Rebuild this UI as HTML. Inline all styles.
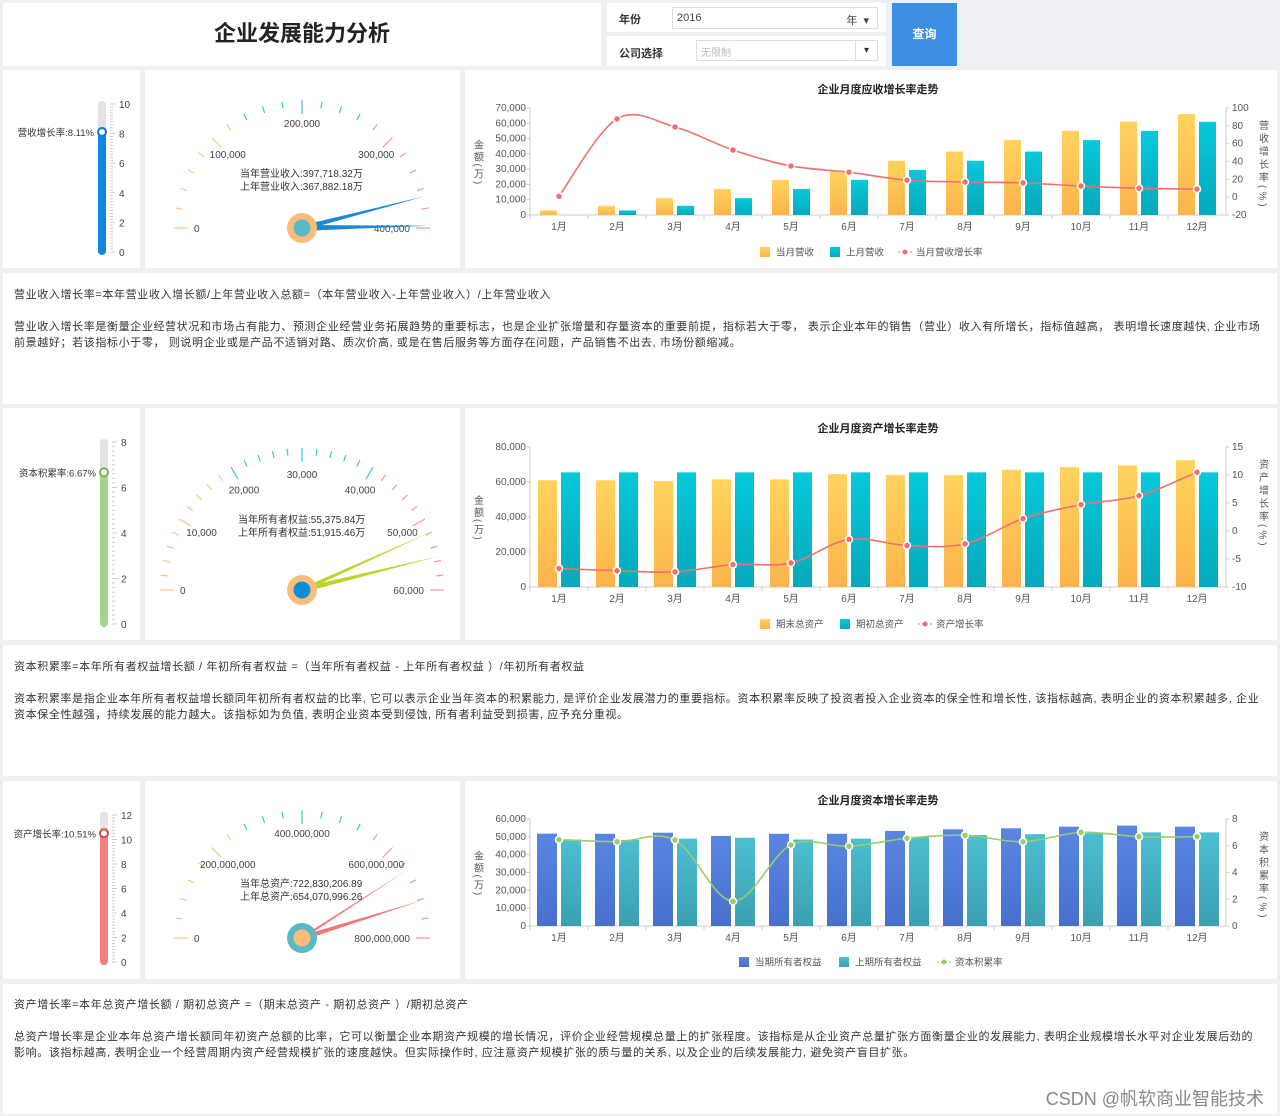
<!DOCTYPE html>
<html><head><meta charset="utf-8">
<style>
*{margin:0;padding:0;box-sizing:border-box}
body{width:1280px;height:1116px;background:#eef0f4;position:relative;overflow:hidden;font-family:"Liberation Sans","Noto Sans CJK SC",sans-serif;color:#333}
.p{position:absolute;background:#fff}
.txt{font-size:11px;line-height:16px;white-space:nowrap;position:absolute;left:14px;color:#333;letter-spacing:0.62px}
#svg{position:absolute;left:0;top:0}
</style></head><body>
<div class="p" style="left:3px;top:3px;width:598px;height:63px"></div>
<div style="position:absolute;left:3px;top:16px;width:598px;text-align:center;font-size:22px;font-weight:bold;color:#222">企业发展能力分析</div>
<div class="p" style="left:607px;top:3px;width:279px;height:29px"></div>
<div class="p" style="left:607px;top:36px;width:279px;height:30px"></div>
<div style="position:absolute;left:619px;top:11px;font-size:11px;font-weight:bold">年份</div>
<div style="position:absolute;left:672px;top:7px;width:206px;height:22px;border:1px solid #ddd;font-size:11px;padding:4px 4px;color:#444">2016<span style="position:absolute;right:8px;top:4px">年 &nbsp;▾</span></div>
<div style="position:absolute;left:619px;top:45px;font-size:11px;font-weight:bold">公司选择</div>
<div style="position:absolute;left:696px;top:40px;width:182px;height:21px;border:1px solid #ddd;font-size:10px;padding:3px 4px;color:#bbb">无限制<span style="position:absolute;right:0;top:0;width:22px;height:19px;border-left:1px solid #ddd;color:#333;text-align:center;line-height:19px">▾</span></div>
<div style="position:absolute;left:892px;top:3px;width:65px;height:63px;background:#3d8fe3;color:#fff;font-size:12px;font-weight:bold;text-align:center;line-height:63px">查询</div>

<div class="p" style="left:3px;top:70px;width:137px;height:198px"></div>
<div class="p" style="left:145px;top:70px;width:315px;height:198px"></div>
<div class="p" style="left:465px;top:70px;width:812px;height:198px"></div>
<div class="p" style="left:3px;top:273px;width:1274px;height:131px"></div>
<div class="p" style="left:3px;top:408px;width:137px;height:232px"></div>
<div class="p" style="left:145px;top:408px;width:315px;height:232px"></div>
<div class="p" style="left:465px;top:408px;width:812px;height:232px"></div>
<div class="p" style="left:3px;top:645px;width:1274px;height:131px"></div>
<div class="p" style="left:3px;top:781px;width:137px;height:198px"></div>
<div class="p" style="left:145px;top:781px;width:315px;height:198px"></div>
<div class="p" style="left:465px;top:781px;width:812px;height:198px"></div>
<div class="p" style="left:3px;top:984px;width:1274px;height:130px"></div>

<div class="txt" style="top:287px">营业收入增长率=本年营业收入增长额/上年营业收入总额=（本年营业收入-上年营业收入）/上年营业收入</div>
<div class="txt" style="top:319px">营业收入增长率是衡量企业经营状况和市场占有能力、预测企业经营业务拓展趋势的重要标志，也是企业扩张增量和存量资本的重要前提，指标若大于零， 表示企业本年的销售（营业）收入有所增长，指标值越高， 表明增长速度越快, 企业市场<br>前景越好；若该指标小于零， 则说明企业或是产品不适销对路、质次价高, 或是在售后服务等方面存在问题，产品销售不出去, 市场份额缩减。</div>
<div class="txt" style="top:659px">资本积累率=本年所有者权益增长额 / 年初所有者权益 =（当年所有者权益 - 上年所有者权益 ）/年初所有者权益</div>
<div class="txt" style="top:691px">资本积累率是指企业本年所有者权益增长额同年初所有者权益的比率, 它可以表示企业当年资本的积累能力, 是评价企业发展潜力的重要指标。资本积累率反映了投资者投入企业资本的保全性和增长性, 该指标越高, 表明企业的资本积累越多, 企业<br>资本保全性越强，持续发展的能力越大。该指标如为负值, 表明企业资本受到侵蚀, 所有者利益受到损害, 应予充分重视。</div>
<div class="txt" style="top:997px">资产增长率=本年总资产增长额 / 期初总资产 =（期末总资产 - 期初总资产 ）/期初总资产</div>
<div class="txt" style="top:1029px">总资产增长率是企业本年总资产增长额同年初资产总额的比率，它可以衡量企业本期资产规模的增长情况，评价企业经营规模总量上的扩张程度。该指标是从企业资产总量扩张方面衡量企业的发展能力, 表明企业规模增长水平对企业发展后劲的<br>影响。该指标越高, 表明企业一个经营周期内资产经营规模扩张的速度越快。但实际操作时, 应注意资产规模扩张的质与量的关系, 以及企业的后续发展能力, 避免资产盲目扩张。</div>
<div style="position:absolute;right:16px;top:1085px;font-size:18px;color:#888">CSDN @帆软商业智能技术</div>

<svg id="svg" width="1280" height="1116" xmlns="http://www.w3.org/2000/svg">
<defs>
<linearGradient id="gY" x1="0" y1="0" x2="0" y2="1"><stop offset="0" stop-color="#ffd35e"/><stop offset="1" stop-color="#fcb44a"/></linearGradient>
<linearGradient id="gT" x1="0" y1="0" x2="0" y2="1"><stop offset="0" stop-color="#05c9da"/><stop offset="1" stop-color="#05a9bb"/></linearGradient>
<linearGradient id="gB" x1="0" y1="0" x2="0" y2="1"><stop offset="0" stop-color="#5a86e2"/><stop offset="1" stop-color="#4670cb"/></linearGradient>
<linearGradient id="gC" x1="0" y1="0" x2="0" y2="1"><stop offset="0" stop-color="#4cbfd0"/><stop offset="1" stop-color="#3ba0b2"/></linearGradient>
</defs>
</svg>
<script>
const months=['1月','2月','3月','4月','5月','6月','7月','8月','9月','10月','11月','12月'];
const revCur=[3000,6000,11000,17000,23000,29000,35500,41500,49000,55000,61000,66000];
const revPrev=[0,3000,6000,11000,17000,23000,29500,35500,41500,49000,55000,61000];
const revRate=[1,87.7,78.7,52.9,35,28,19,17,16,12.5,10,9];
const revLeftTicks=[0,10000,20000,30000,40000,50000,60000,70000];
const revRightTicks=[-20,0,20,40,60,80,100];
const assetEnd=[61000,61000,60500,61500,61500,64500,64000,64000,67000,68500,69500,72500];
const assetBegin=[65500,65500,65500,65500,65500,65500,65500,65500,65500,65500,65500,65500];
const assetRate=[-6.7,-7.1,-7.3,-6.0,-5.7,-1.5,-2.6,-2.3,2.2,4.7,6.3,10.5];
const assetLeftTicks=[0,20000,40000,60000,80000];
const assetRightTicks=[-10,-5,0,5,10,15];
const eqCur=[51800,51700,52300,50500,51700,51700,53300,54200,54800,55700,56300,55700];
const eqPrev=[48500,48300,49000,49500,48500,49000,50000,51000,51500,52000,52500,52500];
const eqRate=[6.46,6.3,6.43,1.85,6.06,5.96,6.56,6.78,6.3,7.0,6.68,6.68];
const eqLeftTicks=[0,10000,20000,30000,40000,50000,60000];
const eqRightTicks=[0,2,4,6,8];
const gaugeRev=[397718.32,367882.18];
const gaugeEq=[55375.84,51915.46];
const gaugeAsset=[722830206.89,654070996.26];
const thermoVals=[8.11,6.67,10.51];

const S=document.getElementById('svg'),NS='http://www.w3.org/2000/svg';
function el(t,a,p){const e=document.createElementNS(NS,t);for(const k in a)e.setAttribute(k,a[k]);(p||S).appendChild(e);return e;}
function tx(x,y,s,a){const e=el('text',Object.assign({x:x,y:y,'font-size':10,fill:'#555','font-family':'Liberation Sans, Noto Sans CJK SC, sans-serif'},a||{}));e.textContent=s;return e;}
const fmt=v=>v.toLocaleString('en-US');

function chart(c){
 const g=el('g',{});
 
 
 const L=c.L,R=c.R,T=c.T,B=c.B,cw=(R-L)/12;
 const yL=v=>B-(v-c.lmin)/(c.lmax-c.lmin)*(B-T);
 const yR=v=>B-(v-c.rmin)/(c.rmax-c.rmin)*(B-T);
 const t=tx((L+R)/2,T-15,c.title,{'text-anchor':'middle','font-size':11,'font-weight':'bold',fill:'#222'});g.appendChild(t);
 
 el('line',{x1:L,y1:T,x2:L,y2:B,stroke:'#ccc'},g);
 el('line',{x1:R,y1:T,x2:R,y2:B,stroke:'#ccc'},g);
 el('line',{x1:L,y1:B,x2:R,y2:B,stroke:'#ccc'},g);
 c.lt.forEach(v=>{g.appendChild(tx(L-4,yL(v)+3,fmt(v),{'text-anchor':'end'}));el('line',{x1:L-3,x2:L,y1:yL(v),y2:yL(v),stroke:'#ccc'},g);});
 c.rt.forEach(v=>{g.appendChild(tx(R+6,yR(v)+3,String(v)));el('line',{x1:R,x2:R+3,y1:yR(v),y2:yR(v),stroke:'#ccc'},g);});
 months.forEach((m,i)=>{const cx=L+cw*(i+.5);g.appendChild(tx(cx,B+15,m,{'text-anchor':'middle'}));el('line',{x1:L+cw*i,x2:L+cw*i,y1:B,y2:B+4,stroke:'#ccc'},g);
  const b1=el('rect',{x:cx-c.bw-2,y:yL(c.a[i]),width:c.bw,height:B-yL(c.a[i]),fill:c.c1},g);
  
  const b2=el('rect',{x:cx+2,y:yL(c.b[i]),width:c.bw,height:B-yL(c.b[i]),fill:c.c2},g);
  
 });
 const pts=c.r.map((v,i)=>[L+cw*(i+.5),yR(v)]);
 let d='M'+pts[0];
 for(let i=0;i<pts.length-1;i++){const p0=pts[Math.max(0,i-1)],p1=pts[i],p2=pts[i+1],p3=pts[Math.min(pts.length-1,i+2)];
  d+=' C'+(p1[0]+(p2[0]-p0[0])/6)+','+(p1[1]+(p2[1]-p0[1])/6)+' '+(p2[0]-(p3[0]-p1[0])/6)+','+(p2[1]-(p3[1]-p1[1])/6)+' '+p2[0]+','+p2[1];}
 const ln=el('path',{d:d,fill:'none',stroke:c.lc,'stroke-width':1.6},g);
 
 pts.forEach((p,i)=>{const ci=el('circle',{cx:p[0],cy:p[1],r:3.5,fill:c.lc,stroke:'#fff','stroke-width':1.5},g);
  });
 // axis titles (vertical)
 const lt=tx(L-53,(T+B)/2-22,c.ltitle,{style:'writing-mode:vertical-rl','letter-spacing':'2px'});g.appendChild(lt);
 
 const rt=tx(R+36,T+12,c.rtitle,{style:'writing-mode:vertical-rl','letter-spacing':'3px'});g.appendChild(rt);
 
 // legend
 const ly=c.ly,lx=c.lx;
 const items=[[c.c1,c.n1,'bar'],[c.c2,c.n2,'bar'],[c.lc,c.n3,'line']];
 let x=lx;
 items.forEach((it,i)=>{const lg=el('g',{},g);
  
  if(it[2]=='bar')el('rect',{x:x,y:ly-5,width:10,height:10,fill:it[0]},lg);
  else{el('line',{x1:x-2,x2:x+12,y1:ly,y2:ly,stroke:it[0],'stroke-dasharray':'2,2'},lg);el('circle',{cx:x+5,cy:ly,r:2.5,fill:it[0]},lg);}
  lg.appendChild(tx(x+16,ly+3.5,it[1],{'font-size':9.5}));x+=16+it[1].length*10+14;});
}
chart({name:'revenue-trend-chart',title:'企业月度应收增长率走势',L:530,R:1226,T:108,B:215,lmin:0,lmax:70000,rmin:-20,rmax:100,lt:revLeftTicks,rt:revRightTicks,a:revCur,b:revPrev,r:revRate,bw:17,c1:'url(#gY)',c2:'url(#gT)',lc:'#f07070',k1:'current',k2:'previous',n1:'当月营收',n2:'上月营收',n3:'当月营收增长率',ltitle:'金额(万)',rtitle:'营收增长率(%)',lx:760,ly:252});
chart({name:'asset-trend-chart',title:'企业月度资产增长率走势',L:530,R:1226,T:447,B:587,lmin:0,lmax:80000,rmin:-10,rmax:15,lt:assetLeftTicks,rt:assetRightTicks,a:assetEnd,b:assetBegin,r:assetRate,bw:19,c1:'url(#gY)',c2:'url(#gT)',lc:'#f07070',k1:'end',k2:'begin',n1:'期末总资产',n2:'期初总资产',n3:'资产增长率',ltitle:'金额(万)',rtitle:'资产增长率(%)',lx:760,ly:624});
chart({name:'capital-trend-chart',title:'企业月度资本增长率走势',L:530,R:1226,T:819,B:926,lmin:0,lmax:60000,rmin:0,rmax:8,lt:eqLeftTicks,rt:eqRightTicks,a:eqCur,b:eqPrev,r:eqRate,bw:20,c1:'url(#gB)',c2:'url(#gC)',lc:'#9ccc6a',k1:'current-equity',k2:'previous-equity',n1:'当期所有者权益',n2:'上期所有者权益',n3:'资本积累率',ltitle:'金额(万)',rtitle:'资本积累率(%)',lx:739,ly:962});

function gauge(c){
 const g=el('g',{});
 
 const cx=c.cx,cy=c.cy,r=c.r;
 const n=c.n;
 for(let i=0;i<=n;i++){const a=Math.PI*i/n;
  const col=i<n/3?'#fcc77e':(i<=2*n/3?'#3ec4d6':'#f59595');
  const len=(i%c.maj==0)?14:7;
  el('line',{x1:cx-Math.cos(a)*r,y1:cy-Math.sin(a)*r,x2:cx-Math.cos(a)*(r-len),y2:cy-Math.sin(a)*(r-len),stroke:col,'stroke-width':1.2},g);}
 c.lab.forEach((s,i)=>{const a=Math.PI*i/(c.lab.length-1);const lr=(i==0||i==c.lab.length-1)?r-20:c.lr;
  const anc=i==0?'start':(i==c.lab.length-1?'end':'middle');
  g.appendChild(tx(cx-Math.cos(a)*lr,cy-Math.sin(a)*lr+4,s,{'text-anchor':anc,fill:'#444'}));});
 c.vals.forEach((v,i)=>{const a=Math.PI*v/c.max;const tr=r-2;const px=-Math.sin(a),py=-Math.cos(a);
  const tip=[cx-Math.cos(a)*tr,cy-Math.sin(a)*tr];
  const nd=el('polygon',{points:[tip,[cx+px*3,cy+py*3],[cx-px*3,cy-py*3]].map(p=>p.join(',')).join(' '),fill:c.nc},g);
  });
 el('circle',{cx:cx,cy:cy,r:15,fill:c.o},g);el('circle',{cx:cx,cy:cy,r:8.5,fill:c.in},g);
 g.appendChild(tx(c.tx,c.ty,c.t1,{fill:'#333'}));g.appendChild(tx(c.tx,c.ty+13,c.t2,{fill:'#333'}));
}
gauge({name:'revenue-gauge',cx:302,cy:228,r:128,n:20,maj:5,lr:105,lab:['0','100,000','200,000','300,000','400,000'],max:400000,vals:gaugeRev,nc:'#1a8ad8',o:'#fdbd78',in:'#5ab9c8',tx:240,ty:177,t1:'当年营业收入:'+fmt(gaugeRev[0])+'万',t2:'上年营业收入:'+fmt(gaugeRev[1])+'万'});
gauge({name:'equity-gauge',cx:302,cy:590,r:142,n:30,maj:5,lr:116,lab:['0','10,000','20,000','30,000','40,000','50,000','60,000'],max:60000,vals:gaugeEq,nc:'#bdd32a',o:'#fdbd78',in:'#0a8fd8',tx:238,ty:523,t1:'当年所有者权益:'+fmt(gaugeEq[0])+'万',t2:'上年所有者权益:'+fmt(gaugeEq[1])+'万'});
gauge({name:'asset-gauge',cx:302,cy:938,r:128,n:20,maj:5,lr:105,lab:['0','200,000,000','400,000,000','600,000,000','800,000,000'],max:800000000,vals:gaugeAsset,nc:'#f07878',o:'#5ab9c8',in:'#fdbd78',tx:240,ty:887,t1:'当年总资产:722,830,206.89',t2:'上年总资产:654,070,996.26'});

function thermo(c,v){
 const g=el('g',{});
 
 const x=c.x,T=c.T,B=c.B,y=B-(v/c.max)*(B-T);
 el('rect',{x:x-4,y:T-3,width:8,height:B-T+6,rx:4,fill:'#e3e3e3'},g);
 el('rect',{x:x-4,y:y,width:8,height:B-y+3,rx:4,fill:c.col},g);
 el('circle',{cx:x,cy:y,r:4,fill:'#fff',stroke:c.ring,'stroke-width':2},g);
 for(let i=0;i<=c.max*c.sub;i++){const yy=B-i/(c.max*c.sub)*(B-T);const maj=i%(c.sub*c.step)==0;
  el('line',{x1:x+8,x2:x+(maj?13:11),y1:yy,y2:yy,stroke:'#ccc'},g);
  if(maj)g.appendChild(tx(x+17,yy+4,String(i/c.sub),{fill:'#444'}));}
 g.appendChild(tx(x-8,y+4,c.label+v+'%',{'text-anchor':'end',fill:'#333','font-size':9.5}));
}
thermo({name:'revenue-growth-thermometer',x:102,T:104,B:252,max:10,sub:5,step:2,col:'#1188e0',ring:'#1177cc',label:'营收增长率:'},thermoVals[0]);
thermo({name:'capital-accumulation-thermometer',x:104,T:442,B:624,max:8,sub:5,step:2,col:'#a8d38a',ring:'#7ab05a',label:'资本积累率:'},thermoVals[1]);
thermo({name:'asset-growth-thermometer',x:104,T:815,B:962,max:12,sub:4,step:2,col:'#f38080',ring:'#d84848',label:'资产增长率:'},thermoVals[2]);
</script>
</body></html>
